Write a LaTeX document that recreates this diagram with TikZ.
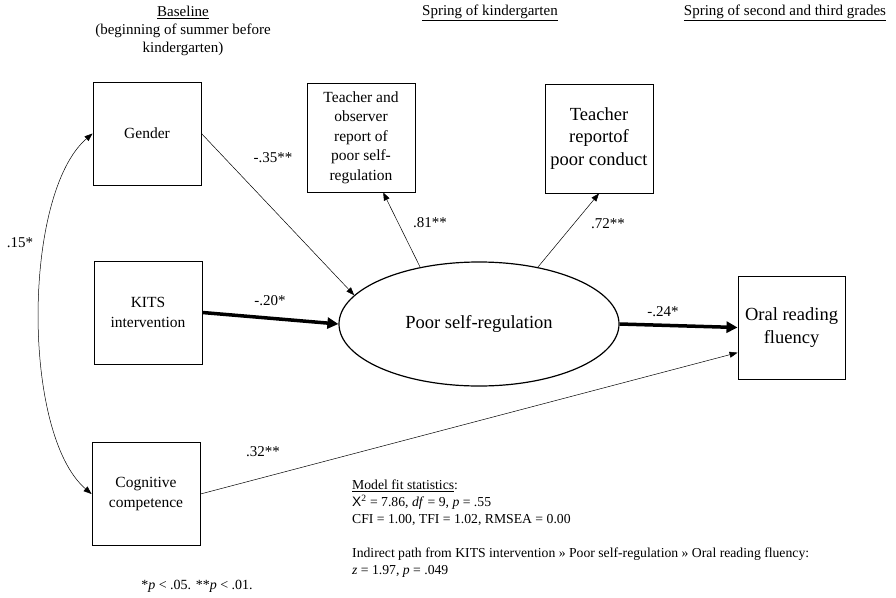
\documentclass[tikz,border=0pt]{standalone}
\usepackage{fontspec}
\setmainfont{Liberation Serif}
\setsansfont{Liberation Sans}
\usetikzlibrary{positioning,arrows.meta,shapes.geometric}
\newcommand{\pth}{\textit{p}}

\begin{document}
\begin{tikzpicture}[x=1pt,y=-1pt,>={Triangle[length=8pt,width=6pt]},
   obs/.style={draw,line width=0.9pt,minimum width=108pt,minimum height=103pt,
     align=center,font=\fontsize{15.5}{19.4}\selectfont},
   bigtxt/.style={font=\fontsize{18.5}{22.5}\selectfont},
   latent/.style={ellipse,draw,line width=1.2pt,minimum width=280pt,
     minimum height=124pt,font=\fontsize{18.5}{22}\selectfont},
   thinarr/.style={->,line width=0.5pt},
   thickarr/.style={-{Triangle[length=11pt,width=11pt]},line width=3.5pt},
   coef/.style={font=\fontsize{15}{18}\selectfont,inner sep=1pt},
   hdr/.style={align=center,font=\fontsize{15}{18}\selectfont,inner sep=0pt},
   stats/.style={anchor=north west,align=left,inner sep=0pt,font=\fontsize{13.7}{16.7}\selectfont}]
  \useasboundingbox (0,0) rectangle (896,597);
  % time points
  \node[hdr] (base) at (183,31) {\underline{Baseline}\\(beginning of summer before\\kindergarten)};
  \node[hdr] (spk)  at (490,13) {\underline{Spring of kindergarten}};
  \node[hdr] (spg)  at (785,13) {\underline{Spring of second and third grades}};
  % observed and latent variables
  \node[obs] (gender) at (147,133.5) {Gender};
  \node[obs] (kits)   at (148,312.5) {KITS\\intervention};
  \node[obs] (cog)    at (146,494) {Cognitive\\competence};
  \node[obs,minimum height=109pt] (tobs) at (361,137.5)
    {Teacher and\\observer\\report of\\poor self-\\regulation};
  \node[obs,bigtxt,minimum height=109pt] (tcond) at (599,138.5)
    {Teacher\\reportof\\poor conduct};
  \node[latent] (psr) at (479,324) {Poor self-regulation};
  \node[obs,bigtxt,minimum width=107pt] (oral) at (791.5,327.5) {Oral reading\\fluency};
  % paths
  \draw[thinarr]  (gender.east) -- (psr.167);
  \draw[thickarr] (kits.east) -- (psr.west);
  \draw[thinarr]  (psr.136) -- (tobs.-68);
  \draw[thinarr]  (psr.44) -- (tcond.south);
  \draw[thickarr] (psr.east) -- (oral.west);
  \draw[thinarr]  (cog.east) -- (oral.205);
  \draw[thinarr,<->] (gender.west) .. controls +(-70,60) and +(-70,-60) .. (cog.west);
  % coefficients
  \node[coef] (c15) at (20,243)  {.15*};
  \node[coef] (c35) at (273,158) {-.35**};
  \node[coef] (c20) at (270,301) {-.20*};
  \node[coef] (c81) at (430,223) {.81**};
  \node[coef] (c72) at (608,224) {.72**};
  \node[coef] (c24) at (663,312) {-.24*};
  \node[coef] (c32) at (263,452) {.32**};
  % fit statistics
  \node[stats] (fit) at (352,480)
    {\underline{Model fit statistics}:\\
     {\sffamily X}\textsuperscript{2} = 7.86, \textit{df} = 9, \pth{} = .55\\
     CFI = 1.00, TFI = 1.02, RMSEA = 0.00};
  \node[stats] (ind) at (352,547.5)
    {Indirect path from KITS intervention » Poor self-regulation » Oral reading fluency:\\
     \textit{z} = 1.97, \pth{} = .049};
  \node[font=\fontsize{14}{16.7}\selectfont] (note) at (197,586) {*\pth{} < .05. **\pth{} < .01.};
\end{tikzpicture}
\end{document}
